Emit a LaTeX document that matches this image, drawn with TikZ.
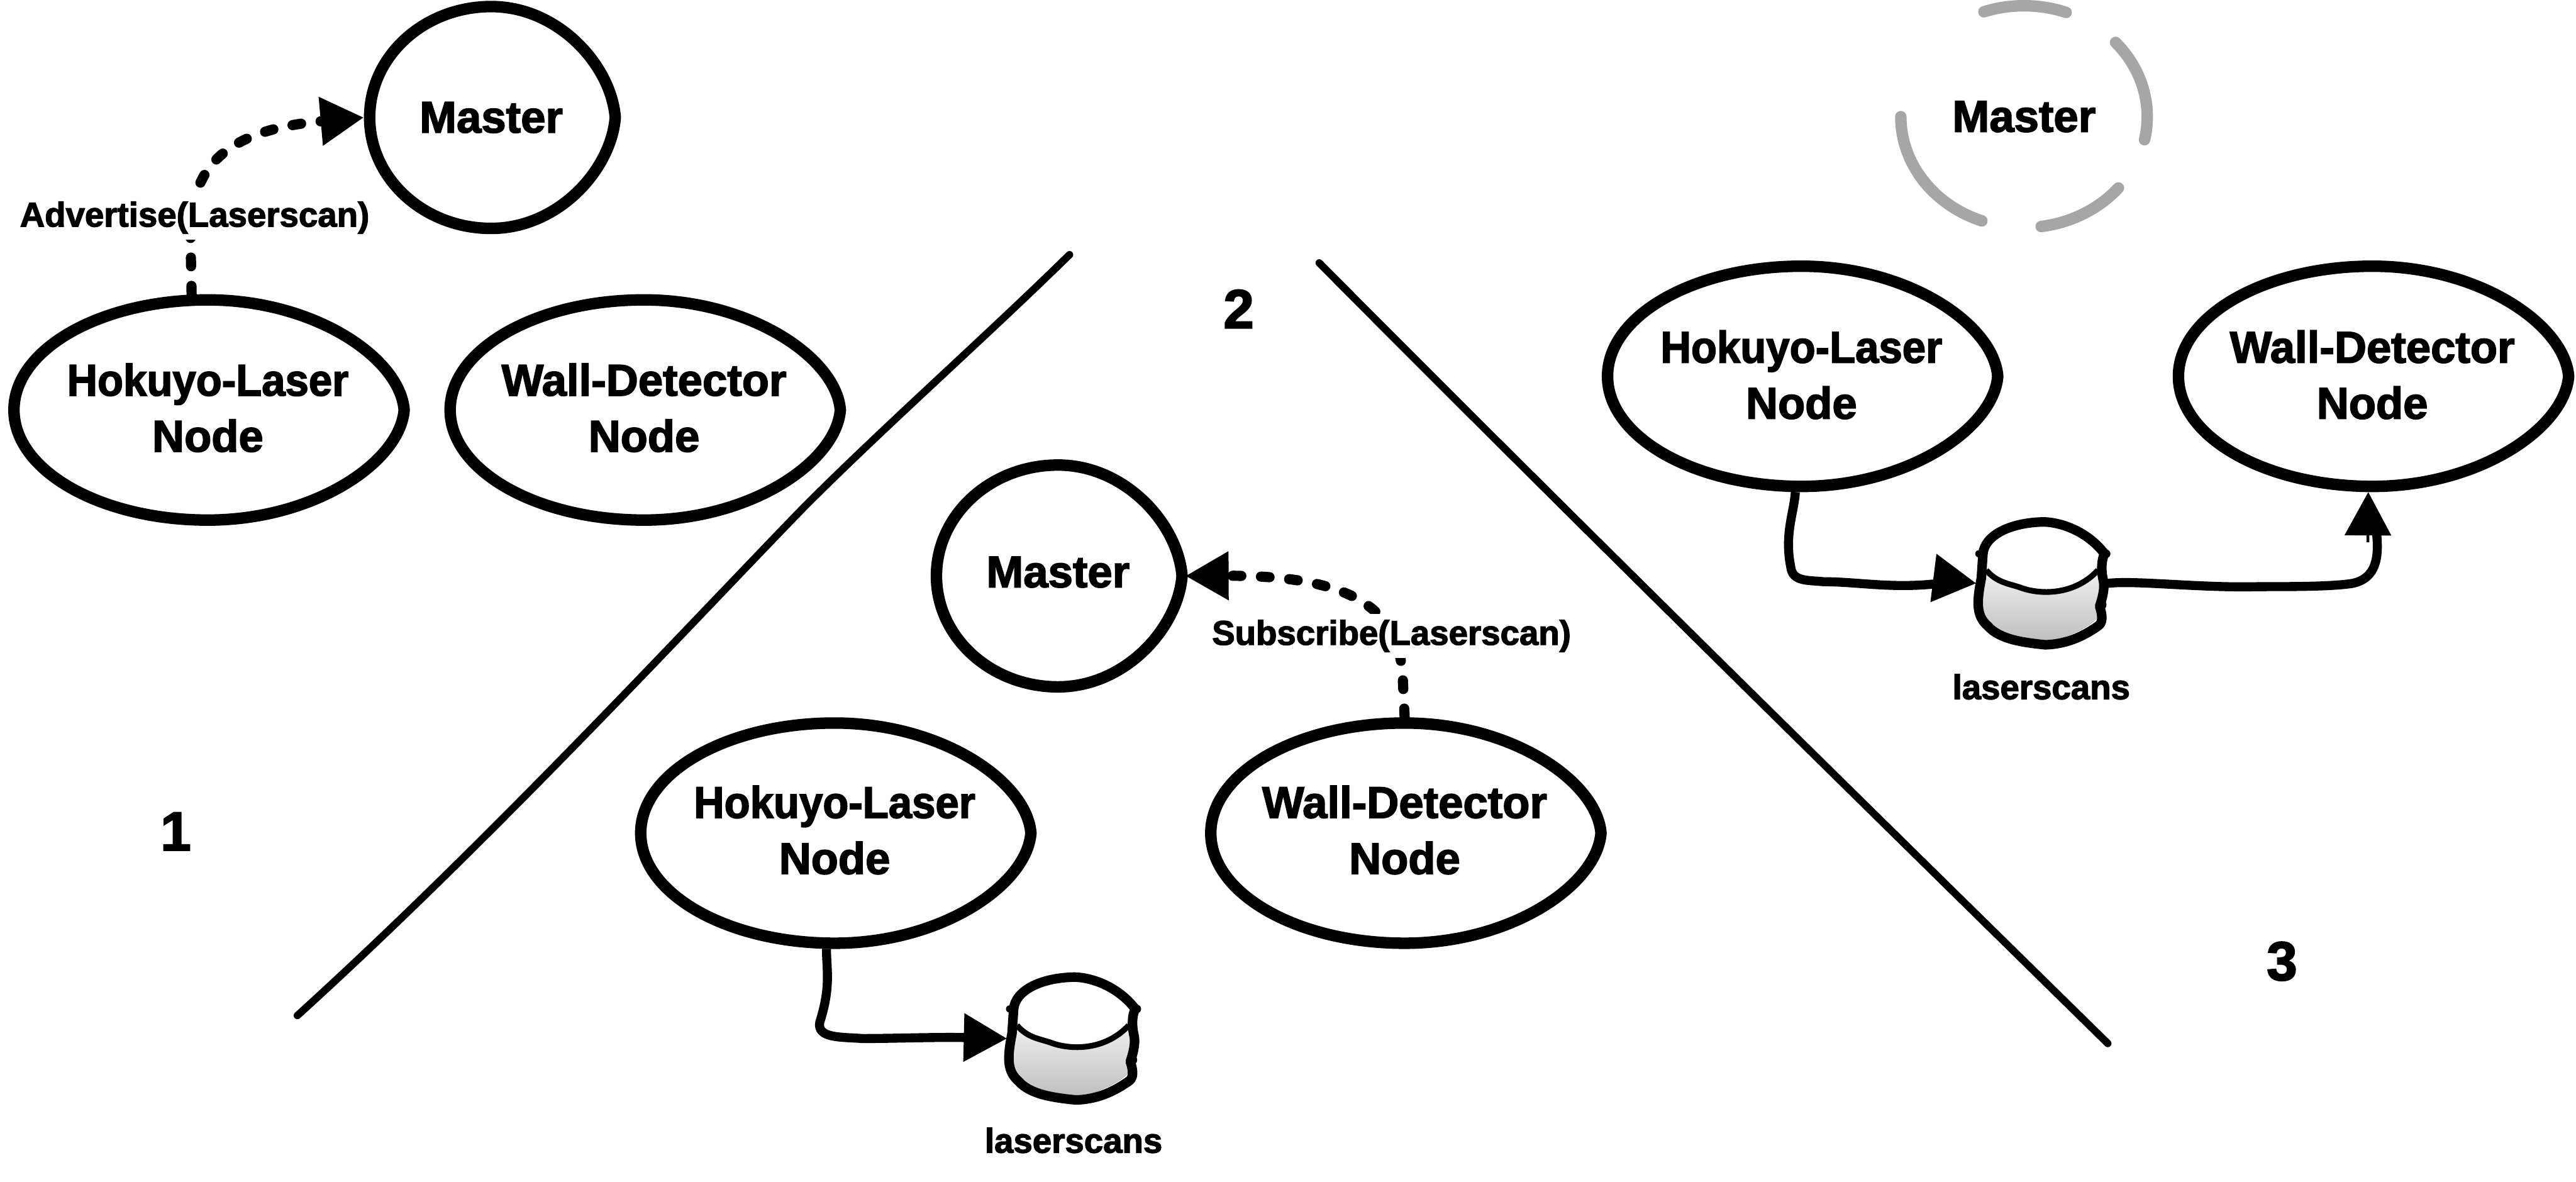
\documentclass[tikz,border=0pt]{standalone}
\usepackage{fontspec}
\setmainfont{Liberation Sans}[BoldFeatures={FakeBold=2.4}]
\usetikzlibrary{shapes.geometric,arrows.meta}
\newcommand{\bodyfont}{\fontsize{15.4}{19.4}\selectfont\bfseries}
\newcommand{\smallfont}{\fontsize{11.9}{14}\selectfont\bfseries}
\newcommand{\numfont}{\fontsize{19}{22}\selectfont\bfseries}
\newcommand{\hok}{\scalebox{0.95}[1]{Hokuyo-Laser}}
\newcommand{\lowdepth}[1]{\rule[-#1]{0pt}{#1}}
\tikzset{
  elnode/.style={ellipse,inner ysep=0pt,inner xsep=-6pt,outer sep=2pt,align=center,font=\bodyfont,minimum width=4.72cm,minimum height=2.68cm},
  masternode/.style={elnode,minimum width=2.96cm,minimum height=2.7cm},
  eggline/.style={draw=black,line width=7*0.569pt,line join=round},
  ghostnode/.style={inner sep=0pt,font=\bodyfont},
  ghostarc/.style={draw=black!35,line width=7*0.569pt,line cap=round},
  labelnode/.style={fill=white,inner xsep=1pt,inner ysep=2pt,font=\smallfont},
  tagnode/.style={inner sep=0pt,font=\smallfont},
  numnode/.style={inner sep=0pt,font=\numfont},
  sepline/.style={line width=4.5*0.569pt,line cap=round},
  tiphead/.style={-{Triangle[length=15pt,width=16pt]}},
  msgline/.style={tiphead,line width=6.2*0.569pt,dash pattern=on 3pt off 6.8pt,line cap=round},
  topicline/.style={tiphead,line width=5.5*0.569pt,line join=round},
  cylnode/.style={inner sep=0pt,outer sep=0pt,minimum width=1.6cm,minimum height=1.55cm},
}
% outline of a hand-drawn ellipse with the small point on its right side
\newcommand{\egg}[3]{%
  \begin{scope}[shift={(#1.center)}]
    \draw[eggline] (-#2,0) .. controls (-#2,-0.5523*#3) and (-0.5523*#2,-#3) .. (0,-#3)
      .. controls (0.5523*#2,-#3) and (#2-1,-0.47*#3) .. (#2+1.5,0)
      .. controls (#2-1,0.47*#3) and (0.5523*#2,#3) .. (0,#3)
      .. controls (-0.5523*#2,#3) and (-#2,0.5523*#3) .. cycle;
  \end{scope}}
% drum drawn around the centre of node #1
\newcommand{\drum}[1]{%
  \begin{scope}[shift={(#1.center)}]
    \fill[top color=black!6,bottom color=black!26] (-36,-8) .. controls (-27,0) and (-20,0) .. (-12,3) .. controls (0,7) and (20,7) .. (36,-8) -- (37,10) .. controls (38,25) and (20,30) .. (2,37) .. controls (-20,35) and (-39,28) .. (-39,8) -- cycle;
    \draw[line width=3.5*0.569pt] (-34,-8) .. controls (-27,0) and (-20,0) .. (-12,3) .. controls (0,7) and (20,7) .. (34,-8);
    \draw[line width=5.8*0.569pt,line join=round]
      (-36,-18) .. controls (-35,-29) and (-20,-37) .. (1,-37.4)
      .. controls (14,-37) and (29,-30) .. (38,-18)
      .. controls (36,-14) and (36,-8) .. (37,-3)
      .. controls (38.5,2) and (37,8) .. (35,14)
      .. controls (37,20) and (37,24) .. (34,26)
      .. controls (24,33) and (14,37) .. (2,37.4)
      .. controls (-12,36) and (-26,34) .. (-33,26)
      .. controls (-40,20) and (-40,12) .. (-37,-3)
      -- cycle;
    \fill (-38.5,-18) circle (2.2);
    \fill (39,-18) circle (2.6);
    \fill (36,13) circle (3.2);
  \end{scope}}
\begin{document}
\begin{tikzpicture}[x=0.02cm,y=-0.02cm]
\useasboundingbox (0,0) rectangle (1568,719);
% separators
\coordinate (sa1) at (181,618); \coordinate (sa2) at (651,155);
\coordinate (sb1) at (803,160); \coordinate (sb2) at (1283,635);
\draw[sepline] (sa1) .. controls (300,510) and (420,380) .. (490,308) .. controls (540,258) and (600,205) .. (sa2);
\draw[sepline] (sb1) .. controls (960,318) and (1120,475) .. (sb2);
% numbers
\node[numnode] (n1) at (107,506) {1};
\node[numnode] (n2) at (754,188) {2};
\node[numnode] (n3) at (1389,585) {3};
% panel 1
\node[masternode] (m1) at (299,71.5) {Master};
\egg{m1}{74}{67.5}
\node[elnode] (h1) at (126.5,249.5) {\hok\\Node\lowdepth{1.7pt}};
\egg{h1}{118}{67}
\node[elnode] (w1) at (392,249.5) {Wall-Detector\\Node\lowdepth{1.7pt}};
\egg{w1}{118}{67}
\draw[msgline] (h1.98) -- (116,146) .. controls (116,112) and (125,80) .. (m1.west);
\node[labelnode] (la1) at (118.5,132.5) {Advertise(Laserscan)};
% panel 2
\node[masternode] (m2) at (644,350.5) {Master\lowdepth{2.8pt}};
\egg{m2}{74}{67.5}
\node[elnode] (h2) at (508,507) {\hok\\Node\lowdepth{2.3pt}};
\egg{h2}{118}{67}
\node[elnode] (w2) at (855,507) {Wall-Detector\\Node\lowdepth{2.3pt}};
\egg{w2}{118}{67}
\draw[msgline] (w2.north) -- (854,416) .. controls (853,378) and (835,350) .. (m2.east);
\node[labelnode] (la2) at (847,387) {Subscribe(Laserscan)};
\node[cylnode] (c2) at (653,632) {};
\drum{c2}
\draw[topicline] (h2.266) .. controls (503,590) and (506,600) .. (499,622) .. controls (497,632) and (512,631) .. (525,632) .. controls (545,632) and (570,631) .. (c2.west);
\node[tagnode] (t2) at (653.5,694) {laserscans};
% panel 3
\node[ghostnode] (m3) at (1232,71) {Master};
\foreach \a/\b in {-109/-70,-42/12,40/82,110/149,137/180}{
  \draw[ghostarc] ([shift={(\a:75 and 67.5)}]m3.center) arc[start angle=\a,end angle=\b,x radius=75,y radius=67.5];
}
\node[elnode] (h3) at (1096.5,229) {\hok\\Node\lowdepth{1.2pt}};
\egg{h3}{118}{67}
\node[elnode] (w3) at (1444,229) {Wall-Detector\\Node\lowdepth{1.2pt}};
\egg{w3}{118}{67}
\node[cylnode] (c3) at (1243,355) {};
\drum{c3}
\draw[topicline] (h3.267) .. controls (1092,312) and (1086,325) .. (1090,345) .. controls (1091,354) and (1100,353) .. (1110,354) .. controls (1130,354) and (1150,358) .. (1176,355.5) .. controls (1185,355) and (1195,354) .. (c3.west);
\draw[line width=5.5*0.569pt] (c3.east) .. controls (1300,353) and (1340,358) .. (1375,357) .. controls (1395,357) and (1420,357) .. (1432,355) .. controls (1446,352) and (1449,340) .. (1446,320);
\draw[tiphead,line width=1pt] (1441.3,330) -- (w3.268);
\node[tagnode] (t3) at (1242.5,418) {laserscans};
\end{tikzpicture}
\end{document}
